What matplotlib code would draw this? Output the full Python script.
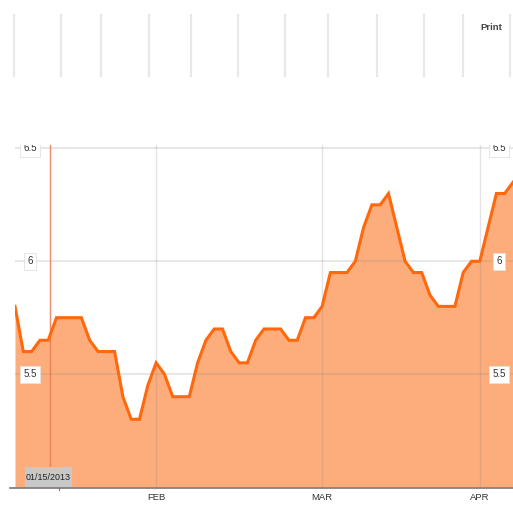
import matplotlib
matplotlib.use("Agg")
import matplotlib.pyplot as plt
from matplotlib.lines import Line2D
from matplotlib.patches import Rectangle

# ---- data ----
values = [5.80, 5.60, 5.60, 5.65, 5.65, 5.75, 5.75, 5.75, 5.75, 5.65,
          5.60, 5.60, 5.60, 5.40, 5.30, 5.30, 5.45, 5.55, 5.50, 5.40,
          5.40, 5.40, 5.55, 5.65, 5.70, 5.70, 5.60, 5.55, 5.55, 5.65,
          5.70, 5.70, 5.70, 5.65, 5.65, 5.75, 5.75, 5.80, 5.95, 5.95,
          5.95, 6.00, 6.15, 6.25, 6.25, 6.30, 6.15, 6.00, 5.95, 5.95,
          5.85, 5.80, 5.80, 5.80, 5.95, 6.00, 6.00, 6.15, 6.30, 6.30,
          6.35]
month_labels = ["FEB", "MAR", "APR"]
month_index = [17, 37, 56]
y_ticks = [5.5, 6, 6.5]
y_tick_labels = ["5.5", "6", "6.5"]
marker_index = 4.2
marker_label = "01/15/2013"
toolbar_x_px = [14, 61, 101, 149, 191, 238, 285, 328, 377, 424, 463, 510]

W, H = 513, 508
fig = plt.figure(figsize=(W / 100, H / 100), dpi=100)
fig.patch.set_facecolor("white")

def fx(px):
    return px / W

def fy(py):
    return 1 - py / H

narrow = ["Liberation Sans", "DejaVu Sans"]

# toolbar decoration at top
for x in toolbar_x_px:
    fig.add_artist(Line2D([fx(x), fx(x)], [fy(15), fy(76)], color="#e8e8e8", lw=1.6))
fig.text(fx(491.5), fy(27), "Print", ha="center", va="center", fontsize=6.8,
         fontweight="bold", color="#444444", family=narrow)

ax = fig.add_axes([fx(15), fy(487), fx(498), (487 - 145) / H])
ax.set_xlim(0, len(values) - 1)
ax.set_ylim(5.0, 6.515)
for s in ax.spines.values():
    s.set_visible(False)
ax.set_xticks([])
ax.set_yticks([])

xs = list(range(len(values)))
ax.fill_between(xs, values, 5.0, color="#fdad7b", lw=0, zorder=1)

# grid
for yv in y_ticks:
    ax.axhline(yv, color="#888888", alpha=0.22, lw=1.3, zorder=2)
for xi in month_index:
    ax.axvline(xi, color="#888888", alpha=0.22, lw=1.0, zorder=2)

ax.plot(xs, values, color="#ff680c", lw=2.2, solid_joinstyle="miter", zorder=4)

# crosshair marker
ax.axvline(marker_index, color="#e8784f", lw=1.0, alpha=0.85, zorder=3)

# y labels (both sides), clipped by the axes
for yv, lab in zip(y_ticks, y_tick_labels):
    for xpos in (1.8, 58.3):
        t = ax.text(xpos, yv, lab, ha="center", va="center", fontsize=7,
                    color="#333333", family=narrow, zorder=6,
                    bbox=dict(boxstyle="square,pad=0.35", fc="white", ec="#e2e2e2", lw=0.6))
        t.set_clip_on(True)

# bottom axis line
fig.add_artist(Line2D([fx(10), fx(513)], [fy(487.5), fy(487.5)], color="#777777", lw=1.2))
fig.add_artist(Line2D([fx(59), fx(59)], [fy(488), fy(490)], color="#777777", lw=0.8))

# month labels
for xi, lab in zip(month_index, month_labels):
    ax.text(xi, -0.018, lab, transform=ax.get_xaxis_transform(), ha="center", va="top",
            fontsize=6.8, color="#333333", family=narrow)

# date label box
fig.add_artist(Rectangle((fx(25), fy(487)), fx(47), (487 - 467) / H,
                         fc="#c8c8c8", ec="none", zorder=5))
fig.text(fx(48.5), fy(477), marker_label, ha="center", va="center", fontsize=6.4,
         color="#222222", family=narrow, zorder=6)

fig.savefig("out.png", dpi=100, facecolor="white")
